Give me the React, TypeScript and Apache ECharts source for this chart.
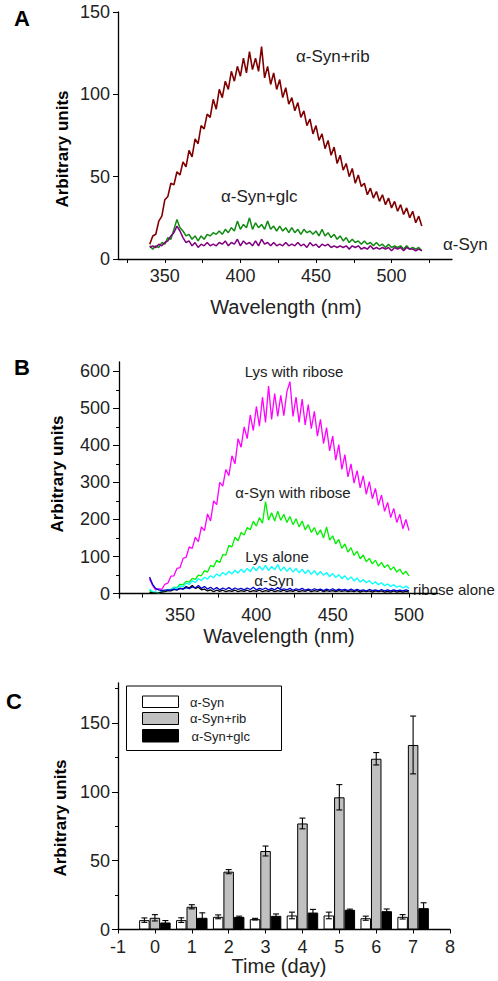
import React, { useEffect, useRef } from "react";
import * as echarts from "echarts";

const FONT = '"Liberation Sans", Arial, sans-serif';

// ---------- Panel A (wavelength 340..520, every 2 nm) ----------
const aStart = 340;
const aStep = 2;
const aRib = [
  9, 14, 15, 23, 26, 36, 38, 46, 45, 53,
  51, 59, 56, 66, 62, 73, 70, 81, 79, 88,
  86, 97, 91, 103, 98, 108, 103, 114, 108, 117,
  111, 122, 113, 126, 115, 122, 114, 129, 110, 117,
  106, 113, 103, 109, 98, 104, 94, 98, 90, 95,
  86, 90, 81, 85, 76, 81, 72, 76, 67, 72,
  63, 68, 58, 63, 54, 58, 50, 55, 46, 51,
  44, 46, 39, 43, 37, 41, 35, 39, 33, 37,
  31, 35, 29, 33, 27, 31, 25, 29, 22, 26,
  20,
];
const aGlc = [
  8, 6, 8, 7, 10, 9, 13, 12, 18, 24,
  19, 17, 14, 15, 12, 14, 11, 14, 12, 15,
  14, 16, 15, 17, 15, 18, 16, 19, 17, 23,
  18, 21, 19, 25, 18, 22, 19, 21, 18, 23,
  18, 20, 17, 20, 17, 19, 16, 19, 16, 18,
  15, 18, 16, 17, 15, 17, 14, 18, 14, 16,
  13, 15, 12, 14, 11, 13, 10, 12, 10, 11,
  9, 11, 9, 10, 8, 10, 8, 9, 7, 9,
  7, 8, 7, 8, 6, 8, 6, 7, 6, 7,
  5,
];
const aSyn = [
  7, 8, 7, 9, 8, 10, 11, 14, 16, 20,
  17, 13, 10, 11, 8, 10, 7, 9, 8, 10,
  8, 9, 8, 10, 9, 11, 8, 10, 9, 12,
  8, 11, 9, 10, 8, 11, 8, 12, 9, 10,
  8, 10, 8, 9, 8, 10, 8, 9, 8, 10,
  8, 9, 7, 10, 8, 9, 7, 9, 8, 9,
  7, 8, 7, 8, 7, 8, 6, 8, 7, 8,
  6, 7, 6, 8, 6, 7, 6, 7, 6, 7,
  5, 7, 6, 7, 5, 7, 6, 6, 5, 6,
  5,
];
const aXTicks = [325, 350, 375, 400, 425, 450, 475, 500, 525];
const aXLabels = [350, 400, 450, 500];

// ---------- Panel B (wavelength 330..500, every 2 nm) ----------
const bStart = 330;
const bStep = 2;
const bLysRib = [
  40, 22, 10, 13, 11, 25, 28, 47, 48, 68,
  70, 95, 98, 126, 122, 152, 140, 180, 170, 215,
  196, 250, 240, 300, 290, 335, 318, 372, 350, 418,
  395, 450, 418, 482, 440, 505, 452, 530, 462, 560,
  470, 540, 478, 535, 480, 545, 572, 478, 530, 462,
  525, 455, 510, 445, 492, 425, 470, 405, 448, 385,
  425, 360, 402, 335, 375, 315, 350, 298, 332, 285,
  318, 268, 302, 256, 284, 238, 266, 222, 246, 205,
  230, 192, 214, 175, 200, 170,
];
const bSynRib = [
  8, 4, 3, 2, 5, 5, 10, 11, 17, 16,
  25, 24, 33, 31, 41, 38, 50, 48, 62, 58,
  76, 72, 90, 84, 105, 104, 130, 126, 152, 142,
  165, 158, 178, 172, 195, 182, 205, 190, 248, 198,
  218, 196, 222, 198, 214, 192, 208, 186, 202, 180,
  196, 172, 186, 165, 178, 158, 172, 150, 180, 144,
  156, 134, 146, 122, 134, 112, 124, 103, 114, 94,
  104, 86, 95, 80, 90, 74, 84, 70, 78, 64,
  72, 58, 66, 52, 60, 48,
];
const bLys = [
  12, 5, 4, 2, 6, 7, 11, 10, 16, 14,
  21, 19, 28, 25, 34, 30, 40, 35, 44, 39,
  48, 43, 53, 47, 57, 50, 60, 53, 63, 55,
  66, 57, 68, 59, 72, 61, 74, 63, 76, 62,
  73, 64, 78, 61, 72, 60, 70, 58, 68, 56,
  66, 54, 64, 52, 62, 50, 60, 49, 57, 46,
  54, 43, 51, 40, 48, 37, 45, 34, 42, 31,
  38, 29, 35, 26, 32, 24, 29, 21, 26, 19,
  24, 17, 21, 15, 20, 14,
];
const bSyn = [
  3, 2, 1, 2, 4, 5, 8, 7, 11, 10,
  14, 13, 19, 15, 22, 14, 17, 10, 12, 7,
  10, 5, 9, 6, 9, 5, 8, 6, 9, 5,
  8, 6, 9, 5, 8, 6, 9, 5, 8, 6,
  9, 5, 8, 6, 9, 5, 8, 6, 9, 5,
  8, 6, 9, 5, 8, 6, 9, 5, 8, 6,
  8, 5, 8, 6, 8, 5, 7, 5, 8, 4,
  7, 5, 7, 4, 7, 5, 7, 4, 6, 4,
  7, 4, 6, 4, 6, 4,
];
const bRibose = [
  45, 25, 14, 10, 8, 9, 10, 9, 12, 10,
  14, 12, 16, 13, 18, 15, 22, 14, 19, 12,
  17, 11, 16, 10, 15, 11, 16, 10, 15, 11,
  14, 10, 15, 11, 17, 10, 14, 11, 15, 10,
  14, 10, 16, 10, 13, 10, 14, 9, 13, 10,
  14, 9, 12, 9, 13, 10, 12, 8, 12, 9,
  13, 8, 12, 9, 11, 8, 12, 8, 11, 8,
  10, 7, 11, 8, 10, 7, 11, 7, 10, 7,
  10, 7, 9, 7, 10, 7,
];
const bXTicks = [325, 350, 375, 400, 425, 450, 475, 500];
const bXLabels = [350, 400, 450, 500];
const bYMajor = [0, 100, 200, 300, 400, 500, 600];
const bYMinor = [50, 150, 250, 350, 450, 550];

// ---------- Panel C ----------
const cDays = ["-1", "0", "1", "2", "3", "4", "5", "6", "7", "8"];
const cSyn = [6.8, 6.8, 9.2, 7.5, 10.2, 10.2, 8.2, 9.2];
const cSynErr = [1.6, 1.7, 1.4, 0.6, 2.4, 2.4, 1.5, 1.6];
const cRib = [8.5, 16.5, 42, 57, 77, 96, 124, 134];
const cRibErr = [2.3, 1.5, 1.5, 3.6, 3.9, 9.2, 4.5, 21];
const cGlc = [5.1, 8.5, 9.2, 9.9, 12.3, 14.3, 13.3, 15.5];
const cGlcErr = [1.4, 3.6, 0.5, 1.4, 2.3, 0.5, 1.6, 3.9];
const cYMajor = [0, 50, 100, 150];
const cYMinor = [25, 75, 125, 175];

const toPairs = (start: number, step: number, vals: number[]) =>
  vals.map((v, i) => [start + step * i, v]);

const axisLineStyle = { lineStyle: { color: "#000", width: 1.3 } };
const tickLabel = { fontSize: 18, fontFamily: FONT, color: "#222" };

function txt(text: string, x: number, y: number, size: number, o: any = {}) {
  return {
    type: "text",
    x,
    y,
    rotation: o.rotation || 0,
    silent: true,
    style: {
      text,
      fontSize: size,
      fontWeight: o.bold ? "bold" : "normal",
      fontFamily: FONT,
      fill: o.color || "#222",
      align: o.align || "center",
      verticalAlign: "middle",
    },
  };
}

function errSeries(vals: number[], errs: number[], offset: number) {
  return {
    type: "custom",
    xAxisIndex: 2,
    yAxisIndex: 3,
    z: 5,
    encode: { x: 0, y: 1 },
    data: vals.map((v, i) => [i + 1, v, errs[i]]),
    renderItem: (params: any, api: any) => {
      const x = api.value(0);
      const v = api.value(1);
      const e = api.value(2);
      const top = api.coord([x, v + e]);
      const bot = api.coord([x, v - e]);
      const cx = top[0] + offset;
      const st = { stroke: "#000", lineWidth: 1.1 };
      return {
        type: "group",
        children: [
          { type: "line", shape: { x1: cx, y1: top[1], x2: cx, y2: bot[1] }, style: st },
          { type: "line", shape: { x1: cx - 3, y1: top[1], x2: cx + 3, y2: top[1] }, style: st },
          { type: "line", shape: { x1: cx - 3, y1: bot[1], x2: cx + 3, y2: bot[1] }, style: st },
        ],
      };
    },
  };
}

function lineSeries(name: string, data: number[][], color: string, xi: number, yi: number, w: number) {
  return {
    name,
    type: "line",
    xAxisIndex: xi,
    yAxisIndex: yi,
    data,
    showSymbol: false,
    symbol: "none",
    lineStyle: { color, width: w },
    itemStyle: { color },
  };
}

export default function App() {
  const ref = useRef<HTMLDivElement>(null);
  useEffect(() => {
    if (!ref.current) return;
    const chart = echarts.init(ref.current, undefined, { renderer: "svg" });
    const option: any = {
      animation: false,
      backgroundColor: "#fff",
      grid: [
        { left: 118, top: 12, width: 334, height: 247 },
        { left: 119, top: 362, width: 319, height: 236 },
        { left: 118, top: 683, width: 332, height: 246.5 },
      ],
      xAxis: [
        {
          type: "value", gridIndex: 0, min: 319, max: 540,
          axisLine: axisLineStyle,
          axisTick: { customValues: aXTicks, length: 4, lineStyle: { color: "#000" } },
          axisLabel: { ...tickLabel, customValues: aXLabels, margin: 8 },
          splitLine: { show: false },
        },
        {
          type: "value", gridIndex: 1, min: 310, max: 519,
          axisLine: axisLineStyle,
          axisTick: { customValues: bXTicks, length: 4, lineStyle: { color: "#000" } },
          axisLabel: { ...tickLabel, customValues: bXLabels, margin: 8 },
          splitLine: { show: false },
        },
        {
          type: "category", gridIndex: 2, data: cDays, boundaryGap: false,
          axisLine: axisLineStyle,
          axisTick: { length: 4, interval: 0, lineStyle: { color: "#000" } },
          axisLabel: { ...tickLabel, interval: 0, margin: 8 },
          splitLine: { show: false },
        },
      ],
      yAxis: [
        {
          type: "value", gridIndex: 0, min: 0, max: 150, interval: 50,
          axisLine: { show: true, ...axisLineStyle },
          axisTick: { show: true, length: 5, lineStyle: { color: "#000" } },
          axisLabel: { ...tickLabel, margin: 8 },
          splitLine: { show: false },
        },
        {
          type: "value", gridIndex: 1, min: -12, max: 625,
          axisLine: { show: true, ...axisLineStyle },
          axisTick: { show: true, customValues: bYMajor, length: 6, lineStyle: { color: "#000" } },
          axisLabel: { ...tickLabel, customValues: bYMajor, margin: 9 },
          splitLine: { show: false },
        },
        {
          type: "value", gridIndex: 1, min: -12, max: 625, position: "left",
          axisLine: { show: false },
          axisTick: { show: true, customValues: bYMinor, length: 3, lineStyle: { color: "#000" } },
          axisLabel: { show: false },
          splitLine: { show: false },
        },
        {
          type: "value", gridIndex: 2, min: 0, max: 179,
          axisLine: { show: true, ...axisLineStyle },
          axisTick: { show: true, customValues: cYMajor, length: 6, lineStyle: { color: "#000" } },
          axisLabel: { ...tickLabel, customValues: cYMajor, margin: 8 },
          splitLine: { show: false },
        },
        {
          type: "value", gridIndex: 2, min: 0, max: 179, position: "left",
          axisLine: { show: false },
          axisTick: { show: true, customValues: cYMinor, length: 3, lineStyle: { color: "#000" } },
          axisLabel: { show: false },
          splitLine: { show: false },
        },
      ],
      series: [
        lineSeries("α-Syn+rib", toPairs(aStart, aStep, aRib), "#800000", 0, 0, 1.6),
        lineSeries("α-Syn+glc", toPairs(aStart, aStep, aGlc), "#108a10", 0, 0, 1.5),
        lineSeries("α-Syn", toPairs(aStart, aStep, aSyn), "#800080", 0, 0, 1.5),
        lineSeries("Lys with ribose", toPairs(bStart, bStep, bLysRib), "#ff00ff", 1, 1, 1.3),
        lineSeries("α-Syn with ribose", toPairs(bStart, bStep, bSynRib), "#00f000", 1, 1, 1.3),
        lineSeries("Lys alone", toPairs(bStart, bStep, bLys), "#00ffff", 1, 1, 1.3),
        lineSeries("α-Syn (B)", toPairs(bStart, bStep, bSyn), "#000000", 1, 1, 1.3),
        lineSeries("ribose alone", toPairs(bStart, bStep, bRibose), "#0000cd", 1, 1, 1.3),
        {
          name: "α-Syn", type: "bar", xAxisIndex: 2, yAxisIndex: 3,
          data: [null, ...cSyn, null], barWidth: 10.5, barGap: "0%",
          itemStyle: { color: "#fff", borderColor: "#000", borderWidth: 1 },
        },
        {
          name: "α-Syn+rib", type: "bar", xAxisIndex: 2, yAxisIndex: 3,
          data: [null, ...cRib, null], barWidth: 10.5, barGap: "0%",
          itemStyle: { color: "#c0c0c0", borderColor: "#000", borderWidth: 1 },
        },
        {
          name: "α-Syn+glc", type: "bar", xAxisIndex: 2, yAxisIndex: 3,
          data: [null, ...cGlc, null], barWidth: 10.5, barGap: "0%",
          itemStyle: { color: "#000", borderColor: "#000", borderWidth: 1 },
        },
        errSeries(cSyn, cSynErr, -10.5),
        errSeries(cRib, cRibErr, 0),
        errSeries(cGlc, cGlcErr, 10.5),
      ],
      graphic: [
        // panel letters
        txt("A", 22, 18, 22, { bold: true, color: "#000" }),
        txt("B", 22, 367, 22, { bold: true, color: "#000" }),
        txt("C", 14, 701, 22, { bold: true, color: "#000" }),
        // axis titles
        txt("Arbitrary units", 62, 149, 17, { bold: true, color: "#000", rotation: Math.PI / 2 }),
        txt("Arbitrary units", 57, 474, 17, { bold: true, color: "#000", rotation: Math.PI / 2 }),
        txt("Arbitrary units", 60, 818, 17, { bold: true, color: "#000", rotation: Math.PI / 2 }),
        txt("Wavelength (nm)", 286, 307, 20),
        txt("Wavelength (nm)", 279, 636, 20),
        txt("Time (day)", 279, 966, 20),
        // panel A annotations
        txt("α-Syn+rib", 296, 56, 17, { align: "left" }),
        txt("α-Syn+glc", 221, 196, 17, { align: "left" }),
        txt("α-Syn", 443, 244, 17, { align: "left" }),
        // panel B annotations
        txt("Lys with ribose", 294, 371, 15),
        txt("α-Syn with ribose", 293, 492, 15),
        txt("Lys alone", 277, 556, 15),
        txt("α-Syn", 274, 580, 15),
        txt("ribose alone", 413, 589, 15, { align: "left" }),
        // panel C legend
        {
          type: "rect", silent: true,
          shape: { x: 126.5, y: 686, width: 155, height: 64.5 },
          style: { fill: "#fff", stroke: "#000", lineWidth: 1 },
          z: 10,
        },
        {
          type: "rect", silent: true,
          shape: { x: 142.5, y: 696, width: 36, height: 11.5 },
          style: { fill: "#fff", stroke: "#000", lineWidth: 1 },
          z: 11,
        },
        {
          type: "rect", silent: true,
          shape: { x: 142.5, y: 712.5, width: 36, height: 12 },
          style: { fill: "#c0c0c0", stroke: "#000", lineWidth: 1 },
          z: 11,
        },
        {
          type: "rect", silent: true,
          shape: { x: 142.5, y: 729.5, width: 36, height: 12.5 },
          style: { fill: "#000", stroke: "#000", lineWidth: 1 },
          z: 11,
        },
        { ...txt("α-Syn", 190, 702, 13, { align: "left" }), z: 11 },
        { ...txt("α-Syn+rib", 190, 718, 13, { align: "left" }), z: 11 },
        { ...txt("α-Syn+glc", 191.5, 736, 13, { align: "left" }), z: 11 },
      ],
    };
    chart.setOption(option);
    return () => chart.dispose();
  }, []);
  return (
    <div
      ref={ref}
      style={{ position: "absolute", left: 0, top: 0, width: 498, height: 981, background: "#fff" }}
    />
  );
}
